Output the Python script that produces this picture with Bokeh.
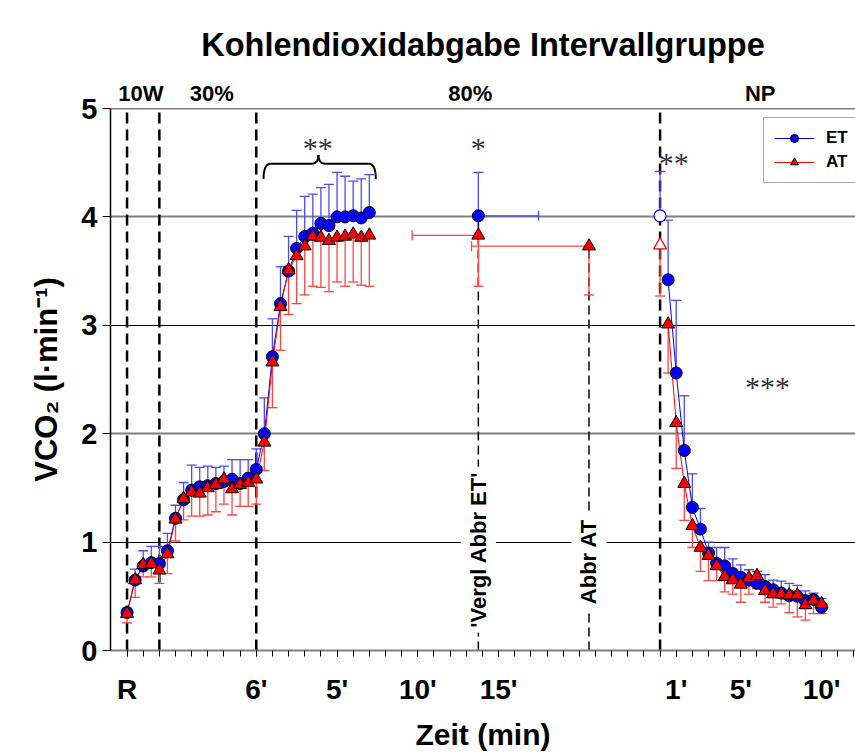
import math
from bokeh.plotting import figure
from bokeh.models import Range1d, FixedTicker, Span, Label, Legend, LegendItem, LinearAxis
from bokeh.embed import file_html
from bokeh.resources import INLINE

# ---------------- data (x in 30-s slots) ----------------
ex_slot = list(range(0, 31))
et_ex = [0.35, 0.65, 0.78, 0.81, 0.80, 0.92, 1.22, 1.39, 1.48, 1.51, 1.52, 1.54, 1.56, 1.58, 1.54, 1.59,
         1.67, 2.00, 2.71, 3.20, 3.50, 3.71, 3.82, 3.85, 3.94, 3.92, 4.00, 4.00, 4.01, 3.99, 4.04]
et_ex_sd = [0.04, 0.10, 0.14, 0.15, 0.16, 0.16, 0.12, 0.16, 0.23, 0.18, 0.18, 0.15, 0.14, 0.18, 0.22, 0.17,
            0.19, 0.33, 0.35, 0.34, 0.32, 0.35, 0.37, 0.36, 0.33, 0.38, 0.41, 0.375, 0.32, 0.36, 0.35]
at_ex = [0.34, 0.65, 0.79, 0.80, 0.74, 0.89, 1.21, 1.40, 1.46, 1.45, 1.50, 1.53, 1.58, 1.49, 1.53, 1.55,
         1.58, 1.92, 2.66, 3.17, 3.51, 3.64, 3.73, 3.82, 3.81, 3.78, 3.81, 3.82, 3.84, 3.81, 3.83]
at_ex_sd = [0.085, 0.16, 0.11, 0.12, 0.12, 0.18, 0.20, 0.195, 0.22, 0.21, 0.25, 0.25, 0.23, 0.24, 0.20, 0.22,
            0.23, 0.26, 0.42, 0.40, 0.41, 0.44, 0.45, 0.46, 0.46, 0.47, 0.41, 0.46, 0.44, 0.44, 0.47]

np_start_slot = 66
np_start_et = 4.01
np_start_et_sd = 0.41
np_start_at = 3.74
np_start_at_sd = 0.47

np_slot = list(range(67, 87))
et_np = [3.42, 2.56, 1.845, 1.32, 1.12, 0.90, 0.805, 0.78, 0.71, 0.675, 0.65, 0.62, 0.59, 0.56, 0.53,
         0.505, 0.50, 0.46, 0.47, 0.40]
et_np_sd = [0.55, 0.67, 0.505, 0.31, 0.19, 0.10, 0.145, 0.17, 0.135, 0.115, 0.095, 0.11, 0.11, 0.09, 0.11,
            0.115, 0.10, 0.09, 0.06, 0.08]
at_np = [3.01, 2.10, 1.54, 1.15, 0.95, 0.875, 0.78, 0.68, 0.65, 0.61, 0.67, 0.69, 0.55, 0.52, 0.52,
         0.51, 0.51, 0.42, 0.46, 0.43]
at_np_sd = [0.45, 0.42, 0.34, 0.20, 0.22, 0.23, 0.135, 0.14, 0.13, 0.165, 0.15, 0.12, 0.105, 0.12, 0.09,
            0.16, 0.20, 0.14, 0.12, 0.09]

# end of exercise (slot, VCO2, SD VCO2, SD time in slots)
et_end = [43.5, 4.01, 0.40, 7.45]
at_cmp = [43.5, 3.83, 0.47, 8.2]
at_end = [57.2, 3.73, 0.45, 14.55]

tick_slots = [0, 16, 26, 36, 46, 68, 76, 86]
tick_text = ["R", "6'", "5'", "10'", "15'", "1'", "5'", "10'"]
phase_lines = [0, 4, 16, 66]
phase_names = ["10W", "30%", "80%", "NP"]
phase_name_x = [1.7, 10.5, 42.5, 78.4]

FONT = "Liberation Sans"
BLUE = "#0000ff"
RED = "#ff0000"
BLUE_ERR = "#4a4aff"
RED_ERR = "#ff4444"

p = figure(width=855, height=756, x_range=Range1d(-2.05, 90.2), y_range=Range1d(0, 5),
           output_backend="svg", toolbar_location=None,
           min_border_left=110, min_border_right=0, min_border_top=108, min_border_bottom=106)
p.outline_line_color = None
p.background_fill_color = "white"
p.border_fill_color = "white"

p.title.text = "Kohlendioxidabgabe Intervallgruppe"
p.title.align = "center"
p.title.text_font = FONT
p.title.text_font_size = "32.5px"
p.title.text_font_style = "bold"
p.title.text_color = "black"
p.title.standoff = 30

# grid
p.xgrid.visible = False
p.ygrid.ticker = FixedTicker(ticks=[2, 4], minor_ticks=[1, 3])
p.ygrid.grid_line_color = "#808080"
p.ygrid.grid_line_width = 2
p.ygrid.minor_grid_line_color = "black"
p.ygrid.minor_grid_line_width = 1
p.add_layout(Span(location=5, dimension="width", line_color="black", line_width=1.5))

# axes
xa = p.below[0]
xa.ticker = FixedTicker(ticks=tick_slots, minor_ticks=list(range(0, 91, 2)))
xa.major_label_overrides = {t: s for t, s in zip(tick_slots, tick_text)}
xa.axis_line_color = "#808080"
xa.axis_line_width = 2
xa.major_tick_out = 6
xa.major_tick_in = 0
xa.minor_tick_out = 6
xa.minor_tick_in = 0
xa.major_label_text_font = FONT
xa.major_label_text_font_size = "28px"
xa.major_label_text_font_style = "bold"
xa.major_label_text_color = "black"
xa.major_label_standoff = 17
xa.axis_label = "Zeit (min)"
xa.axis_label_text_font = FONT
xa.axis_label_text_font_size = "30px"
xa.axis_label_text_font_style = "bold"
xa.axis_label_text_color = "black"
xa.axis_label_standoff = 10

ya = p.left[0]
ya.ticker = FixedTicker(ticks=[0, 1, 2, 3, 4, 5])
ya.axis_line_color = "black"
ya.axis_line_width = 1.5
ya.major_tick_out = 8
ya.major_tick_in = 0
ya.minor_tick_out = 0
ya.major_label_text_font = FONT
ya.major_label_text_font_size = "29px"
ya.major_label_text_font_style = "bold"
ya.major_label_text_color = "black"
ya.major_label_standoff = 5
ya.axis_label = "VCO\u2082 (l\u00b7min\u207b\u00b9)"
ya.axis_label_text_font = FONT
ya.axis_label_text_font_size = "31px"
ya.axis_label_text_font_style = "bold"
ya.axis_label_text_color = "black"
ya.axis_label_standoff = 14

# phase names as a label-only axis above the frame
top = LinearAxis(ticker=FixedTicker(ticks=phase_name_x),
                 major_label_overrides={x: n for x, n in zip(phase_name_x, phase_names)})
top.axis_line_color = None
top.major_tick_line_color = None
top.minor_tick_line_color = None
top.major_tick_out = 0
top.major_label_standoff = 3
top.major_label_text_font = FONT
top.major_label_text_font_size = "22px"
top.major_label_text_font_style = "bold"
top.major_label_text_color = "black"
p.add_layout(top, "above")

# phase separator lines
p.segment(x0=phase_lines, y0=[0] * len(phase_lines), x1=phase_lines, y1=[5] * len(phase_lines),
          line_color="black", line_width=2.5, line_dash="11 6")
# end-of-exercise lines
p.segment(x0=[et_end[0], at_end[0]], y0=[0, 0], x1=[et_end[0], at_end[0]], y1=[et_end[1], at_end[1]],
          line_color="black", line_width=1.5, line_dash="9 5")

# rotated markers of termination
p.add_layout(Label(x=et_end[0], y=0.93, text="'Vergl Abbr ET'", angle=math.pi / 2, text_align="center",
                   text_baseline="middle", text_font=FONT, text_font_size="22px", text_font_style="bold",
                   text_color="black", background_fill_color="white", padding=5))
p.add_layout(Label(x=at_end[0], y=0.82, text="Abbr AT", angle=math.pi / 2, text_align="center",
                   text_baseline="middle", text_font=FONT, text_font_size="22px", text_font_style="bold",
                   text_color="black", background_fill_color="white", padding=5))

# ---- error bars ----
def vbars(xs, ys, sds, up, color):
    tops = [y + s if up else y - s for y, s in zip(ys, sds)]
    p.segment(x0=xs, y0=ys, x1=xs, y1=tops, line_color=color, line_width=1.3)
    p.scatter(x=xs, y=tops, marker="dash", size=10, line_color=color, line_width=1.3)

vbars(ex_slot, et_ex, et_ex_sd, True, BLUE_ERR)
vbars(np_slot, et_np, et_np_sd, True, BLUE_ERR)
vbars([np_start_slot, et_end[0]], [np_start_et, et_end[1]], [np_start_et_sd, et_end[2]], True, BLUE_ERR)
vbars(ex_slot, at_ex, at_ex_sd, False, RED_ERR)
vbars(np_slot, at_np, at_np_sd, False, RED_ERR)
vbars([np_start_slot, at_cmp[0], at_end[0]], [np_start_at, at_cmp[1], at_end[1]],
      [np_start_at_sd, at_cmp[2], at_end[2]], False, RED_ERR)

# horizontal (time) error bars
hx0 = [et_end[0], at_cmp[0], at_end[0]]
hx1 = [et_end[0] + et_end[3], at_cmp[0] - at_cmp[3], at_end[0] - at_end[3]]
hy = [et_end[1], at_cmp[1], at_end[1]]
hcol = [BLUE_ERR, RED_ERR, RED_ERR]
p.segment(x0=hx0, y0=hy, x1=hx1, y1=hy, line_color=hcol, line_width=1.3)
p.scatter(x=hx1, y=hy, marker="dash", angle=math.pi / 2, size=10, line_color=hcol, line_width=1.3)

# ---- lines & markers ----
nan = float("nan")
bx = ex_slot + [nan] + np_slot
blue_line = p.line(x=bx, y=et_ex + [nan] + et_np, line_color=BLUE, line_width=1)
red_line = p.line(x=bx, y=at_ex + [nan] + at_np, line_color=RED, line_width=1)

blue_pts = p.scatter(x=ex_slot + np_slot + [et_end[0]], y=et_ex + et_np + [et_end[1]], marker="circle",
                     size=12, fill_color=BLUE, line_color="black", line_width=1)
p.scatter(x=[np_start_slot], y=[np_start_et], marker="circle", size=12, fill_color="white",
          line_color=BLUE, line_width=1.2)
red_pts = p.scatter(x=ex_slot + np_slot + [at_cmp[0], at_end[0]], y=at_ex + at_np + [at_cmp[1], at_end[1]],
                    marker="triangle", size=13, fill_color=RED, line_color="black", line_width=1)
p.scatter(x=[np_start_slot], y=[np_start_at], marker="triangle", size=13, fill_color="white",
          line_color=RED, line_width=1.2)

# ---- significance brace & asterisks ----
bl, br, bm = 16.9, 30.8, 23.7
ylo, ymid, ytop = 4.35, 4.49, 4.57
p.quadratic(x0=[bl, bm - 0.8, bm, br - 0.9], y0=[ylo, ymid, ytop, ymid],
            x1=[bl + 0.9, bm, bm + 0.8, br], y1=[ymid, ytop, ymid, ylo],
            cx=[bl, bm, bm, br], cy=[ymid, ymid, ymid, ymid], line_color="black", line_width=2)
p.segment(x0=[bl + 0.9, bm + 0.8], y0=[ymid, ymid], x1=[bm - 0.8, br - 0.9], y1=[ymid, ymid],
          line_color="black", line_width=2)

sig_text = ["**", "*", "**", "***"]
sig_x = [23.6, 43.5, 67.7, 79.3]
sig_y = [4.64, 4.64, 4.50, 2.44]
for t, x, y in zip(sig_text, sig_x, sig_y):
    p.add_layout(Label(x=x, y=y, text=t, text_align="center", text_baseline="middle",
                       text_font="Liberation Serif", text_font_size="30px", text_color="#333333"))

legend = Legend(items=[LegendItem(label="ET", renderers=[blue_line, blue_pts]),
                       LegendItem(label="AT", renderers=[red_line, red_pts])],
                location=(653, 467), glyph_width=40, glyph_height=20, label_height=20,
                spacing=4, padding=10, margin=0, label_standoff=12,
                border_line_color="#555555", border_line_width=1.5,
                label_text_font=FONT, label_text_font_size="17px", label_text_font_style="bold",
                label_text_color="black")
p.add_layout(legend)

open("out.html", "w").write(file_html(p, INLINE))
